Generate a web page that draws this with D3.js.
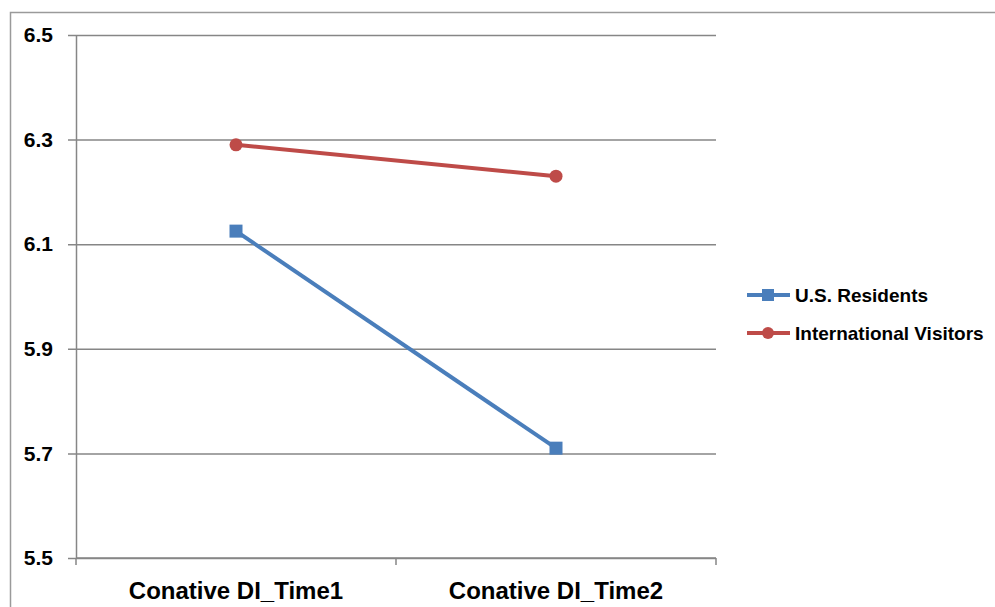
<!DOCTYPE html>
<html>
<head>
<meta charset="utf-8">
<script src="https://cdn.jsdelivr.net/npm/d3@7"></script>
<style>
  html, body { margin: 0; padding: 0; background: #fff; }
  svg { display: block; font-family: "Liberation Sans", Arial, sans-serif; }
</style>
</head>
<body>
<svg id="chart" width="995" height="607"></svg>
<script>
// Categories along the x axis
const categories = ["Conative DI_Time1", "Conative DI_Time2"];
// Series names and values
const seriesNames = ["U.S. Residents", "International Visitors"];
const usResidents = [6.125, 5.71];
const internationalVisitors = [6.29, 6.23];
// Y tick labels
const yTicks = [5.5, 5.7, 5.9, 6.1, 6.3, 6.5];

const series = [
  { name: seriesNames[0], values: usResidents, color: "#4A7EBB", marker: "square" },
  { name: seriesNames[1], values: internationalVisitors, color: "#BE4B48", marker: "circle" }
];

const svg = d3.select("#chart");
const plot = { left: 76, right: 716, top: 35, bottom: 558 };

// Outer frame of the chart area
svg.append("rect")
  .attr("x", 10.5).attr("y", 12.5)
  .attr("width", 1000).attr("height", 700)
  .attr("fill", "none").attr("stroke", "#9a9a9a").attr("stroke-width", 1.5);

const x = d3.scaleBand().domain(categories).range([plot.left, plot.right]);
const y = d3.scaleLinear().domain([5.5, 6.5]).range([plot.bottom, plot.top]);

// Horizontal gridlines with left tick marks
const gy = svg.append("g").attr("transform", `translate(${plot.left},0)`)
  .call(d3.axisLeft(y).tickValues(yTicks).tickSize(8).tickPadding(15).tickFormat(d3.format(".1f")));
gy.select(".domain").attr("stroke", "#868686").attr("stroke-width", 1.5).attr("d", `M0.5,${plot.top}V${plot.bottom}`);
gy.selectAll(".tick line").attr("stroke", "#868686").attr("stroke-width", 1.5)
  .attr("x1", -8).attr("x2", plot.right - plot.left);
gy.selectAll(".tick text")
  .attr("font-size", 21).attr("font-weight", "bold").attr("fill", "#000")
  .attr("font-family", "Liberation Sans, Arial, sans-serif");

// Category axis with tick marks at band boundaries
const gx = svg.append("g").attr("transform", `translate(0,${plot.bottom})`);
gx.append("line").attr("x1", plot.left).attr("x2", plot.right)
  .attr("stroke", "#868686").attr("stroke-width", 1.5);
const boundaries = categories.map(c => x(c)).concat([x(categories[categories.length - 1]) + x.bandwidth()]);
gx.selectAll("line.tk").data(boundaries).enter().append("line")
  .attr("class", "tk")
  .attr("x1", d => d).attr("x2", d => d).attr("y1", 0).attr("y2", 7)
  .attr("stroke", "#868686").attr("stroke-width", 1.5);
gx.selectAll("text").data(categories).enter().append("text")
  .attr("x", d => x(d) + x.bandwidth() / 2)
  .attr("y", 41)
  .attr("text-anchor", "middle")
  .attr("font-size", 24).attr("font-weight", "bold").attr("fill", "#000")
  .text(d => d);

// Series lines and markers
const line = d3.line()
  .x((d, i) => x(categories[i]) + x.bandwidth() / 2)
  .y(d => y(d));

series.forEach(s => {
  svg.append("path").datum(s.values)
    .attr("d", line)
    .attr("fill", "none").attr("stroke", s.color).attr("stroke-width", 4);
  const g = svg.append("g");
  s.values.forEach((v, i) => {
    const cx = x(categories[i]) + x.bandwidth() / 2, cy = y(v);
    if (s.marker === "square") {
      g.append("rect").attr("x", cx - 6.5).attr("y", cy - 6.5).attr("width", 13).attr("height", 13).attr("fill", s.color);
    } else {
      g.append("circle").attr("cx", cx).attr("cy", cy).attr("r", 6.5).attr("fill", s.color);
    }
  });
});

// Legend
const legend = svg.append("g");
series.forEach((s, i) => {
  const ly = 295 + i * 38;
  legend.append("line").attr("x1", 747).attr("x2", 790).attr("y1", ly).attr("y2", ly)
    .attr("stroke", s.color).attr("stroke-width", 4);
  if (s.marker === "square") {
    legend.append("rect").attr("x", 762).attr("y", ly - 6).attr("width", 12).attr("height", 12).attr("fill", s.color);
  } else {
    legend.append("circle").attr("cx", 768).attr("cy", ly).attr("r", 6).attr("fill", s.color);
  }
  legend.append("text").attr("x", 795).attr("y", ly + 7)
    .attr("font-size", 19).attr("font-weight", "bold").attr("fill", "#000")
    .text(s.name);
});
</script>
</body>
</html>
